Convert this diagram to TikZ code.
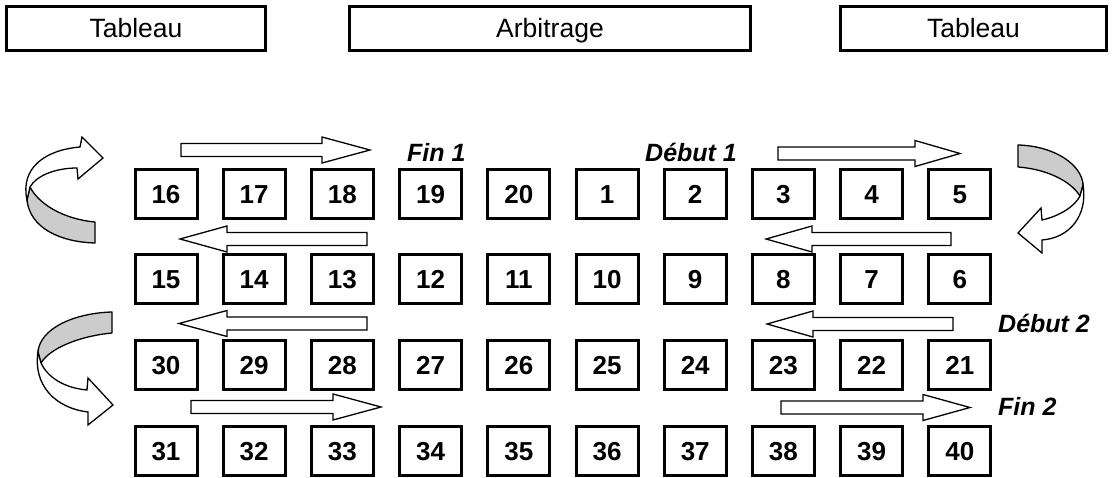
\documentclass[tikz,border=0pt]{standalone}
\usepackage{fontspec}
\setmainfont{Liberation Sans}
\tikzset{
  seat/.style={draw, line width=3pt, minimum width=62pt, minimum height=49pt, inner sep=0pt,
    text height=18.6pt, text depth=0pt, font=\fontsize{26}{31}\selectfont\bfseries},
  topbox/.style={draw, line width=3pt, minimum height=44pt, inner sep=0pt, text height=19pt, text depth=0pt,
    font=\fontsize{26.5}{32}\selectfont},
  lbl/.style={anchor=base west, inner sep=0pt, font=\fontsize{25}{30}\selectfont\bfseries\itshape},
  blockarrow/.style={draw, fill=white, line width=1.3pt, line join=miter},
  ribbonback/.style={draw, fill=black!20, line width=1.3pt, line join=round},
  ribbonfront/.style={draw, fill=white, line width=1.3pt, line join=miter}
}
\newcommand{\myblockarrow}[4]{%
  \draw[blockarrow] (#1,#4-6.5) -- (#2,#4-6.5) -- (#2,#4-13) -- (#3,#4) -- (#2,#4+13) -- (#2,#4+6.5) -- (#1,#4+6.5) -- cycle;}
\begin{document}
\begin{tikzpicture}[x=1pt,y=-1pt]
\useasboundingbox (0,0) rectangle (1113,478);
\fill[white] (0,0) rectangle (1113,478);

% top boxes
\node[topbox, minimum width=259pt] (tabL) at (136,28.5) {Tableau};
\node[topbox, minimum width=401pt] (arb) at (550,28.5) {Arbitrage};
\node[topbox, minimum width=266pt] (tabR) at (973.5,28.5) {Tableau};

% seats
\foreach \n [count=\i from 0] in {16,17,18,19,20,1,2,3,4,5}
  \node[seat] (s\n) at ({166+88.2*\i},194.5) {\n};
\foreach \n [count=\i from 0] in {15,14,13,12,11,10,9,8,7,6}
  \node[seat] (s\n) at ({166+88.2*\i},279) {\n};
\foreach \n [count=\i from 0] in {30,29,28,27,26,25,24,23,22,21}
  \node[seat] (s\n) at ({166+88.2*\i},365) {\n};
\foreach \n [count=\i from 0] in {31,32,33,34,35,36,37,38,39,40}
  \node[seat] (s\n) at ({166+88.2*\i},451) {\n};

% labels
\node[lbl] (fin1) at (407,162) {Fin 1};
\node[lbl] (deb1) at (645,162) {Début 1};
\node[lbl] (deb2) at (998,332) {Début 2};
\node[lbl] (fin2) at (998,415) {Fin 2};

% straight block arrows
\myblockarrow{181}{322}{370}{150}
\myblockarrow{367}{227}{180}{239}
\myblockarrow{778}{915}{960}{153.5}
\myblockarrow{951}{812}{766}{239}
\myblockarrow{367}{227}{179}{323.5}
\myblockarrow{953}{813}{767}{324}
\myblockarrow{191}{333}{381}{407}
\myblockarrow{781}{923}{970}{407.5}

% curved arrow top left
\draw[ribbonback] (30,187) .. controls (38,203) and (62,219) .. (95,222) -- (95,243)
  .. controls (60,242) and (30,228) .. (27,200) -- cycle;
\draw[ribbonfront] (27,200) .. controls (20,168) and (45,150) .. (80,147) -- (82,137) -- (103,158)
  -- (78,179) -- (77,168) .. controls (55,168) and (36,176) .. (30,187) -- cycle;

% curved arrow top right
\draw[ribbonback] (1018,145) .. controls (1055,146) and (1082,165) .. (1083,185) -- (1080,196)
  .. controls (1070,180) and (1045,169) .. (1018,167) -- cycle;
\draw[ribbonfront] (1083,185) .. controls (1088,215) and (1070,238) .. (1042,240) -- (1042,253)
  -- (1018,233) -- (1041,208) -- (1042,220) .. controls (1060,216) and (1075,206) .. (1080,196) -- cycle;

% curved arrow bottom left
\draw[ribbonback] (112,312) .. controls (75,313) and (40,328) .. (38,352) -- (41,363)
  .. controls (50,348) and (80,336) .. (112,333) -- cycle;
\draw[ribbonfront] (38,352) .. controls (33,385) and (55,408) .. (88,412) -- (88,425) -- (113,405)
  -- (88,378) -- (87,390) .. controls (65,388) and (48,378) .. (41,363) -- cycle;
\end{tikzpicture}
\end{document}
